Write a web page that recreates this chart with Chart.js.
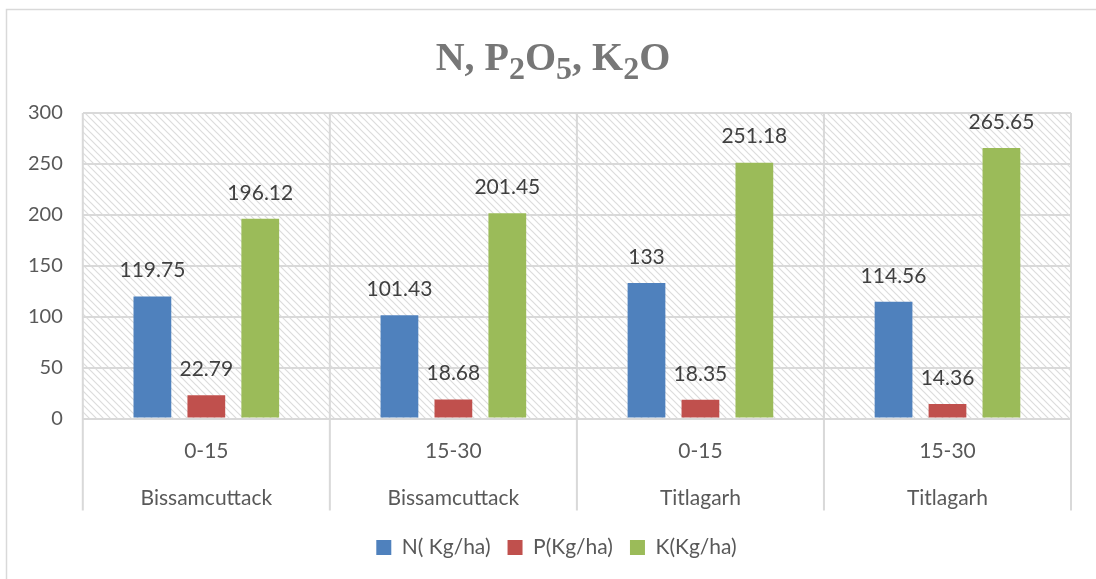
<!DOCTYPE html>
<html>
<head>
<meta charset="utf-8">
<script src="https://cdn.jsdelivr.net/npm/chart.js@4.4.0/dist/chart.umd.min.js"></script>
<style>
  html, body { margin: 0; padding: 0; background: #ffffff; }
  #wrap { width: 1096px; height: 579px; }
</style>
</head>
<body>
<div id="wrap"><canvas id="myChart"></canvas></div>
<script>
// depth ranges and locations (two-level category axis)
const depths = ["0-15", "15-30", "0-15", "15-30"];
const places = ["Bissamcuttack", "Bissamcuttack", "Titlagarh", "Titlagarh"];

const nValues = [119.75, 101.43, 133, 114.56];
const pValues = [22.79, 18.68, 18.35, 14.36];
const kValues = [196.12, 201.45, 251.18, 265.65];

const yTicks = [0, 50, 100, 150, 200, 250, 300];

const labels = depths.map((d, i) => [d, places[i]]);

// diagonal hatch for the plot area
function makeHatch(ctx) {
  const c = document.createElement("canvas");
  c.width = 7;
  c.height = 7;
  const g = c.getContext("2d");
  g.strokeStyle = "#dcdcdc";
  g.lineWidth = 1.2;
  g.beginPath();
  g.moveTo(-1, -1);
  g.lineTo(8, 8);
  g.moveTo(-8, -1);
  g.lineTo(1, 8);
  g.moveTo(6, -1);
  g.lineTo(15, 8);
  g.stroke();
  return ctx.createPattern(c, "repeat");
}

const backgroundPlugin = {
  id: "background",
  afterLayout(chart) {
    // nudge the legend: a bit right of centre and closer to the axis labels
    chart.legend.left += 17;
    chart.legend.right += 17;
    chart.legend.top -= 11;
    chart.legend.bottom -= 11;
  },
  beforeDraw(chart) {
    const { ctx, chartArea } = chart;
    ctx.save();
    // outer chart border (only top and left show in the frame)
    ctx.strokeStyle = "#d9d9d9";
    ctx.lineWidth = 1.5;
    ctx.strokeRect(6.5, 9.5, 1200, 700);
    // hatched plot area
    ctx.fillStyle = makeHatch(ctx);
    ctx.fillRect(chartArea.left, chartArea.top,
      chartArea.right - chartArea.left, chartArea.bottom - chartArea.top);
    ctx.restore();
  },
  beforeDatasetsDraw(chart) {
    // category separators running down through both label rows
    const { ctx, chartArea } = chart;
    const n = depths.length;
    const w = (chartArea.right - chartArea.left) / n;
    ctx.save();
    ctx.strokeStyle = "#d9d9d9";
    ctx.lineWidth = 2;
    ctx.beginPath();
    for (let i = 0; i <= n; i++) {
      const x = chartArea.left + i * w;
      ctx.moveTo(x, chartArea.top);
      ctx.lineTo(x, chartArea.bottom + 92);
    }
    ctx.stroke();
    ctx.restore();
  },
  afterDraw(chart) {
    // title with subscripts
    const { ctx } = chart;
    const parts = [
      ["N, P", false], ["2", true], ["O", false], ["5", true],
      [", K", false], ["2", true], ["O", false]
    ];
    const big = "bold 40px 'Liberation Serif'";
    const small = "bold 32px 'Liberation Serif'";
    ctx.save();
    let total = 0;
    parts.forEach(([t, sub]) => {
      ctx.font = sub ? small : big;
      total += ctx.measureText(t).width;
    });
    let x = chart.width / 2 + 5 - total / 2;
    const base = 70;
    ctx.fillStyle = "#777777";
    ctx.textBaseline = "alphabetic";
    parts.forEach(([t, sub]) => {
      ctx.font = sub ? small : big;
      ctx.fillText(t, x, sub ? base + 9 : base);
      x += ctx.measureText(t).width;
    });
    ctx.restore();
  }
};

const valueLabelPlugin = {
  id: "valueLabels",
  afterDatasetsDraw(chart) {
    const { ctx } = chart;
    ctx.save();
    ctx.font = "21px Lato";
    ctx.fillStyle = "#404040";
    ctx.textAlign = "center";
    ctx.textBaseline = "middle";
    chart.data.datasets.forEach((ds, di) => {
      chart.getDatasetMeta(di).data.forEach((bar, i) => {
        ctx.fillText(String(ds.data[i]), bar.x, bar.y - 26);
      });
    });
    ctx.restore();
  }
};

document.addEventListener("DOMContentLoaded", function () {
  const ctx = document.getElementById("myChart").getContext("2d");
  new Chart(ctx, {
    type: "bar",
    data: {
      labels: labels,
      datasets: [
        { label: "N( Kg/ha)", data: nValues, backgroundColor: "#4f81bd" },
        { label: "P(Kg/ha)", data: pValues, backgroundColor: "#c0504d" },
        { label: "K(Kg/ha)", data: kValues, backgroundColor: "#9bbb59" },
      ],
    },
    options: {
      responsive: true,
      maintainAspectRatio: false,
      animation: false,
      categoryPercentage: 0.655,
      barPercentage: 0.7,
      layout: { padding: { top: 113, left: 8, right: 25, bottom: 0 } },
      scales: {
        x: {
          grid: { display: false, drawTicks: false },
          border: { display: false },
          ticks: {
            color: "#595959",
            padding: 9,
            font: { family: "Lato", size: 21, lineHeight: 2.25 },
          },
        },
        y: {
          min: 0,
          max: 300,
          afterBuildTicks: (axis) => {
            axis.ticks = yTicks.map((v) => ({ value: v }));
          },
          grid: { color: "#d9d9d9", lineWidth: 2, drawTicks: false },
          border: { display: false },
          ticks: {
            color: "#595959",
            padding: 20,
            font: { family: "Lato", size: 20 },
          },
        },
      },
      plugins: {
        title: { display: false },
        tooltip: { enabled: false },
        legend: {
          position: "bottom",
          labels: {
            color: "#595959",
            boxWidth: 15,
            boxHeight: 15,
            padding: 17,
            font: { family: "Lato", size: 21 },
          },
        },
      },
    },
    plugins: [backgroundPlugin, valueLabelPlugin],
  });
});
</script>
</body>
</html>
